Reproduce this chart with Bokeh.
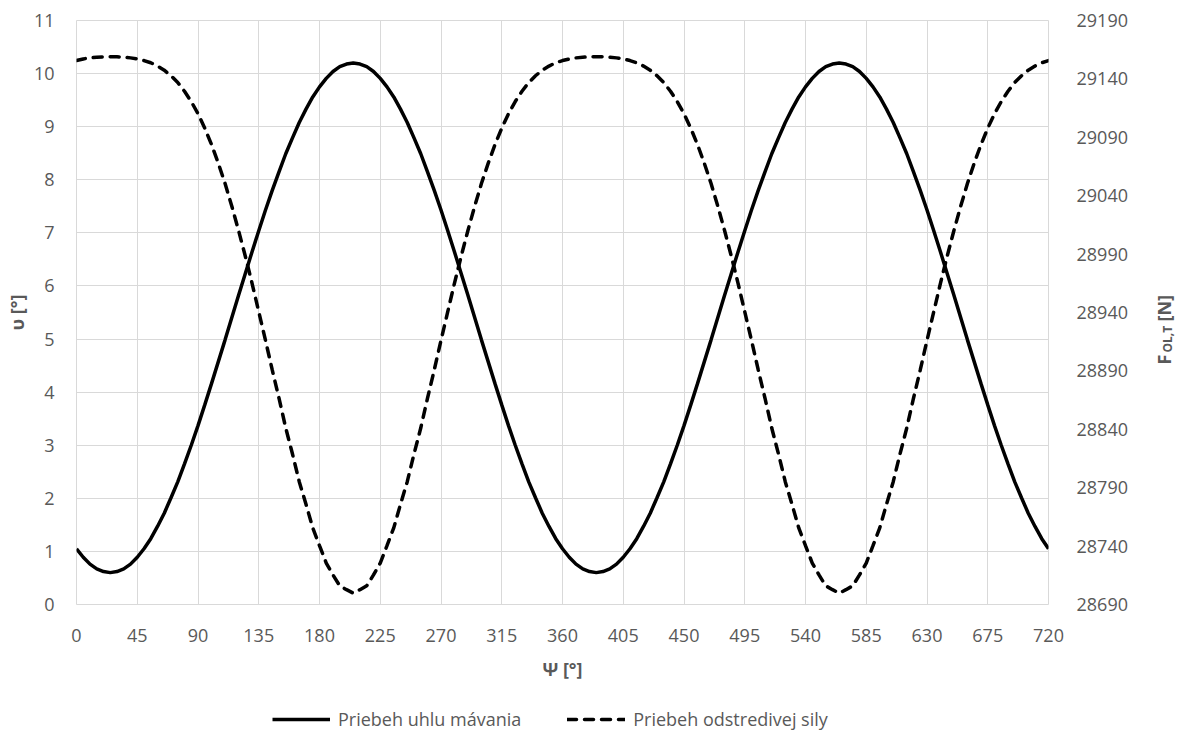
from bokeh.plotting import figure
from bokeh.layouts import row, column
from bokeh.models import LinearAxis, Range1d, FixedTicker, Legend, LegendItem
from bokeh.core.properties import value
from bokeh.embed import file_html
from bokeh.resources import INLINE

# Azimuth angle of the blade [deg]
psi = list(range(0, 721, 5))

# Flapping angle [deg]
flap = [
    # 0 .. 360
    1.05, 0.89, 0.76, 0.67, 0.62, 0.60, 0.62, 0.67, 0.76, 0.89, 1.05, 1.24,
    1.47, 1.72, 2.01, 2.31, 2.65, 3.00, 3.37, 3.76, 4.16, 4.57, 4.98, 5.40,
    5.82, 6.23, 6.64, 7.04, 7.43, 7.80, 8.15, 8.49, 8.79, 9.08, 9.33, 9.56,
    9.75, 9.91, 10.04, 10.13, 10.18, 10.20, 10.18, 10.13, 10.04, 9.91, 9.75,
    9.56, 9.33, 9.08, 8.79, 8.49, 8.15, 7.80, 7.43, 7.04, 6.64, 6.23, 5.82,
    5.40, 4.98, 4.57, 4.16, 3.76, 3.37, 3.00, 2.65, 2.31, 2.01, 1.72, 1.47,
    1.24, 1.05,
    # 365 .. 720
    0.89, 0.76, 0.67, 0.62, 0.60, 0.62, 0.67, 0.76, 0.89, 1.05, 1.24,
    1.47, 1.72, 2.01, 2.31, 2.65, 3.00, 3.37, 3.76, 4.16, 4.57, 4.98, 5.40,
    5.82, 6.23, 6.64, 7.04, 7.43, 7.80, 8.15, 8.49, 8.79, 9.08, 9.33, 9.56,
    9.75, 9.91, 10.04, 10.13, 10.18, 10.20, 10.18, 10.13, 10.04, 9.91, 9.75,
    9.56, 9.33, 9.08, 8.79, 8.49, 8.15, 7.80, 7.43, 7.04, 6.64, 6.23, 5.82,
    5.40, 4.98, 4.57, 4.16, 3.76, 3.37, 3.00, 2.65, 2.31, 2.01, 1.72, 1.47,
    1.24, 1.05,
]

# Centrifugal force [N]
force = [
    # 0 .. 360
    29155.7, 29157.1, 29158.0, 29158.6, 29158.9, 29159.0, 29158.9, 29158.6,
    29158.0, 29157.1, 29155.7, 29153.8, 29151.0, 29147.5, 29142.7, 29136.9,
    29129.4, 29120.6, 29110.2, 29097.8, 29083.8, 29067.9, 29050.6, 29031.2,
    29010.4, 28988.4, 28965.2, 28940.7, 28916.1, 28890.8, 28866.6, 28841.1,
    28818.8, 28795.2, 28775.8, 28755.6, 28740.4, 28725.5, 28715.3, 28706.0,
    28702.7, 28699.7, 28702.7, 28706.0, 28715.3, 28725.5, 28740.4, 28755.6,
    28775.8, 28795.2, 28818.8, 28841.1, 28866.6, 28890.8, 28916.1, 28940.7,
    28965.2, 28988.4, 29010.4, 29031.2, 29050.6, 29067.9, 29083.8, 29097.8,
    29110.2, 29120.6, 29129.4, 29136.9, 29142.7, 29147.5, 29151.0, 29153.8,
    29155.7,
    # 365 .. 720
    29157.1, 29158.0, 29158.6, 29158.9, 29159.0, 29158.9, 29158.6,
    29158.0, 29157.1, 29155.7, 29153.8, 29151.0, 29147.5, 29142.7, 29136.9,
    29129.4, 29120.6, 29110.2, 29097.8, 29083.8, 29067.9, 29050.6, 29031.2,
    29010.4, 28988.4, 28965.2, 28940.7, 28916.1, 28890.8, 28866.6, 28841.1,
    28818.8, 28795.2, 28775.8, 28755.6, 28740.4, 28725.5, 28715.3, 28706.0,
    28702.7, 28699.7, 28702.7, 28706.0, 28715.3, 28725.5, 28740.4, 28755.6,
    28775.8, 28795.2, 28818.8, 28841.1, 28866.6, 28890.8, 28916.1, 28940.7,
    28965.2, 28988.4, 29010.4, 29031.2, 29050.6, 29067.9, 29083.8, 29097.8,
    29110.2, 29120.6, 29129.4, 29136.9, 29142.7, 29147.5, 29151.0, 29153.8,
    29155.7,
]

x_ticks = list(range(0, 721, 45))
y_ticks = list(range(0, 12))
force_ticks = [28690 + 50 * i for i in range(11)]

series_names = ["Priebeh uhlu mávania", "Priebeh odstredivej sily"]

FONT = "Open Sans"
GREY = "#595959"
GRID = "#d9d9d9"
TICK_SIZE = "18px"
LABEL_SIZE = "18px"

MAIN_W, SIDE_W = 1150, 40
MAIN_H, LEG_H = 704, 34
TOP, BOTTOM = 20, 100

FLAP_STYLE = dict(line_color="black", line_width=3.5)
FORCE_STYLE = dict(line_color="black", line_width=3.5, line_dash="9 8",
                   line_cap="round")

# ---- main chart -----------------------------------------------------------
p = figure(width=MAIN_W, height=MAIN_H, output_backend="svg",
           toolbar_location=None,
           x_range=Range1d(0, 720), y_range=Range1d(0, 11),
           min_border_left=76, min_border_right=102,
           min_border_top=TOP, min_border_bottom=BOTTOM)
p.extra_y_ranges = {"force": Range1d(28690, 29190)}

p.outline_line_color = GRID
p.xgrid.grid_line_color = GRID
p.ygrid.grid_line_color = GRID

p.xaxis.ticker = FixedTicker(ticks=x_ticks)
p.yaxis.ticker = FixedTicker(ticks=y_ticks)

right_axis = LinearAxis(y_range_name="force",
                        ticker=FixedTicker(ticks=force_ticks))
p.add_layout(right_axis, "right")

for ax in p.axis:
    ax.axis_line_color = None
    ax.major_tick_line_color = None
    ax.minor_tick_line_color = None
    ax.major_label_text_font = FONT
    ax.major_label_text_font_size = TICK_SIZE
    ax.major_label_text_color = GREY
    ax.axis_label_text_font = FONT
    ax.axis_label_text_font_size = LABEL_SIZE
    ax.axis_label_text_font_style = "bold"
    ax.axis_label_text_color = GREY

left_axis = p.left[0]
bottom_axis = p.below[0]

bottom_axis.major_label_standoff = 18
bottom_axis.axis_label = "Ψ [°]"
bottom_axis.axis_label_standoff = 12
left_axis.major_label_standoff = 16
left_axis.axis_label = "υ [°]"
left_axis.axis_label_standoff = 2
right_axis.major_label_standoff = 22

p.line(psi, flap, **FLAP_STYLE)
p.line(psi, force, y_range_name="force", **FORCE_STYLE)

# ---- strip on the right with the force axis title (with subscript) ---------
side = figure(width=SIDE_W, height=MAIN_H, output_backend="svg",
              toolbar_location=None, x_range=Range1d(0, SIDE_W),
              y_range=Range1d(0, 11), min_border_left=0, min_border_right=0,
              min_border_top=TOP, min_border_bottom=BOTTOM)
side.axis.visible = False
side.grid.visible = False
side.outline_line_color = None

px_per_unit = (MAIN_H - TOP - BOTTOM) / 11.0


def y_at(py):
    return (MAIN_H - BOTTOM - py) / px_per_unit


title_parts = [("F", 13, 364, LABEL_SIZE),
               ("OL,T", 17, 352, "12px"),
               ("[N]", 13, 321, LABEL_SIZE)]
for txt, tx, py, size in title_parts:
    side.text(x=[tx], y=[y_at(py)], text=[txt], angle=1.5707963,
              text_font=value(FONT), text_font_size=size,
              text_font_style="bold", text_color=GREY,
              text_align="left", text_baseline="alphabetic")

# ---- legend strip under the chart --------------------------------------------
# The key renderers reuse the series, but the strip's ranges lie outside
# the data, so only the legend entries are visible here.
leg = figure(width=MAIN_W + SIDE_W, height=LEG_H, output_backend="svg",
             toolbar_location=None, x_range=Range1d(-2, -1),
             y_range=Range1d(-2, -1), min_border=0)
leg.axis.visible = False
leg.grid.visible = False
leg.outline_line_color = None
key_flap = leg.line(psi, flap, **FLAP_STYLE)
key_force = leg.line(psi, force, **FORCE_STYLE)

legend = Legend(items=[LegendItem(label=series_names[0], renderers=[key_flap]),
                       LegendItem(label=series_names[1], renderers=[key_force])],
                orientation="horizontal", location=(272, 7),
                glyph_width=58, glyph_height=20, label_standoff=8, spacing=46,
                padding=0, margin=0, border_line_alpha=0,
                background_fill_alpha=0,
                label_text_font=FONT, label_text_font_size=LABEL_SIZE,
                label_text_color=GREY)
leg.add_layout(legend)

layout = column(row(p, side, spacing=0), leg, spacing=0)
open("out.html", "w").write(file_html(layout, INLINE))
